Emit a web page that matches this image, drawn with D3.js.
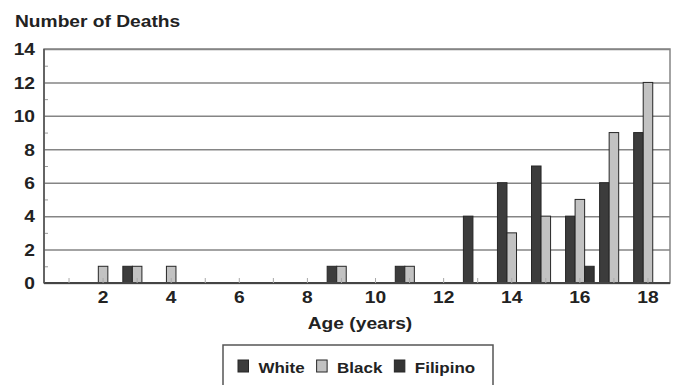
<!DOCTYPE html>
<html>
<head>
<meta charset="utf-8">
<script src="https://cdn.jsdelivr.net/npm/d3@7/dist/d3.min.js"></script>
<style>
  html, body { margin: 0; padding: 0; background: #fff; }
  svg { display: block; }
  text { font-family: "Liberation Sans", Arial, sans-serif; font-weight: bold; fill: #222; }
</style>
</head>
<body>
<svg id="chart" width="673" height="385"></svg>
<script>
// Deaths by age (years) and race
const ages = [1, 2, 3, 4, 5, 6, 7, 8, 9, 10, 11, 12, 13, 14, 15, 16, 17, 18];
const white    = [0, 0, 1, 0, 0, 0, 0, 0, 1, 0, 1, 0, 4, 6, 7, 4, 6, 9];
const black    = [0, 1, 1, 1, 0, 0, 0, 0, 1, 0, 1, 0, 0, 3, 4, 5, 9, 12];
const filipino = [0, 0, 0, 0, 0, 0, 0, 0, 0, 0, 0, 0, 0, 0, 0, 1, 0, 0];
const seriesNames = ["White", "Black", "Filipino"];
const seriesColors = ["#3c3c3c", "#c2c2c2", "#343434"];
const yTicks = [0, 2, 4, 6, 8, 10, 12, 14];
const yMinorTicks = [1, 3, 5, 7, 9, 11, 13];
const xLabelAges = [2, 4, 6, 8, 10, 12, 14, 16, 18];

const series = [white, black, filipino];
const STRETCH = 1.2;   // wide lettering

const svg = d3.select("#chart");
const plot = { left: 44, top: 49, right: 670, bottom: 283 };

const x = d3.scaleBand()
  .domain(ages)
  .range([52, 665])
  .paddingInner(0.16)
  .paddingOuter(0.08);

const x1 = d3.scaleBand()
  .domain(seriesNames)
  .range([0, x.bandwidth()]);

const y = d3.scaleLinear()
  .domain([0, 14])
  .range([plot.bottom, plot.top]);

// frame
svg.append("rect")
  .attr("x", plot.left).attr("y", plot.top)
  .attr("width", plot.right - plot.left).attr("height", plot.bottom - plot.top)
  .attr("fill", "none").attr("stroke", "#858585").attr("stroke-width", 1.5);

// gridlines
svg.append("g")
  .attr("transform", `translate(${plot.left},0)`)
  .call(d3.axisLeft(y).tickValues(yTicks).tickSize(-(plot.right - plot.left)).tickFormat(""))
  .call(g => g.select(".domain").remove())
  .call(g => g.selectAll("line").attr("stroke", "#858585").attr("stroke-width", 1.5));

// minor ticks on the value axis
svg.append("g")
  .attr("transform", `translate(${plot.left},0)`)
  .call(d3.axisLeft(y).tickValues(yMinorTicks).tickSize(-4).tickFormat(""))
  .call(g => g.select(".domain").remove())
  .call(g => g.selectAll("line").attr("stroke", "#999").attr("stroke-width", 1));

// value labels
svg.append("g")
  .attr("transform", `translate(${plot.left},0)`)
  .call(d3.axisLeft(y).tickValues(yTicks).tickSize(0).tickPadding(0))
  .call(g => g.select(".domain").remove())
  .call(g => g.selectAll("text")
    .attr("x", -9 / STRETCH)
    .attr("dy", "0.36em")
    .attr("transform", `scale(${STRETCH},1)`)
    .style("font-size", "16px")
    .style("font-family", null)
    .attr("fill", "#222"));

// bars
const groups = svg.append("g")
  .selectAll("g")
  .data(ages)
  .join("g")
  .attr("transform", d => `translate(${x(d)},0)`);

groups.selectAll("rect")
  .data((d, i) => seriesNames.map((name, k) => ({ name, k, value: series[k][i] })).filter(e => e.value > 0))
  .join("rect")
  .attr("x", e => x1(e.name))
  .attr("width", x1.bandwidth())
  .attr("y", e => y(e.value))
  .attr("height", e => y(0) - y(e.value))
  .attr("fill", e => seriesColors[e.k])
  .attr("stroke", "#262626")
  .attr("stroke-width", 1);

// category axis
const xAxis = svg.append("g")
  .attr("transform", `translate(0,${plot.bottom})`)
  .call(d3.axisBottom(x).tickSize(-5).tickPadding(8.6)
    .tickFormat(d => xLabelAges.includes(d) ? d : ""));
xAxis.select(".domain")
  .attr("d", `M${plot.left},0H${plot.right}`)
  .attr("stroke", "#444").attr("stroke-width", 2);
xAxis.selectAll(".tick line").attr("stroke", "#aaa").attr("stroke-width", 1);
xAxis.selectAll("text")
  .attr("transform", `scale(${STRETCH},1)`)
  .style("font-size", "16px")
  .attr("fill", "#222");

// value axis line
svg.append("line")
  .attr("x1", plot.left).attr("x2", plot.left)
  .attr("y1", plot.top).attr("y2", plot.bottom)
  .attr("stroke", "#555").attr("stroke-width", 1.6);

// stretched text helper
function label(txt, px, py, size, anchor) {
  return svg.append("text")
    .attr("transform", `translate(${px},${py}) scale(${STRETCH},1)`)
    .attr("text-anchor", anchor || "start")
    .style("font-size", size + "px")
    .text(txt);
}

label("Number of Deaths", 15, 27, 16);
label("Age (years)", 360, 329, 16, "middle");

// legend
const legend = svg.append("g");
legend.append("rect")
  .attr("x", 223).attr("y", 345)
  .attr("width", 270).attr("height", 60)
  .attr("fill", "#fff").attr("stroke", "#555").attr("stroke-width", 1.5);

const LEG_STRETCH = 1.13;
let lx = 238;
seriesNames.forEach((name, k) => {
  legend.append("rect")
    .attr("x", lx).attr("y", 360)
    .attr("width", 10.5).attr("height", 12)
    .attr("fill", seriesColors[k])
    .attr("stroke", "#262626").attr("stroke-width", 1);
  const t = legend.append("text")
    .attr("transform", `translate(${lx + 20.5},373) scale(${LEG_STRETCH},1)`)
    .style("font-size", "15px")
    .text(name);
  lx += 20.5 + t.node().getComputedTextLength() * LEG_STRETCH + 12;
});
</script>
</body>
</html>
